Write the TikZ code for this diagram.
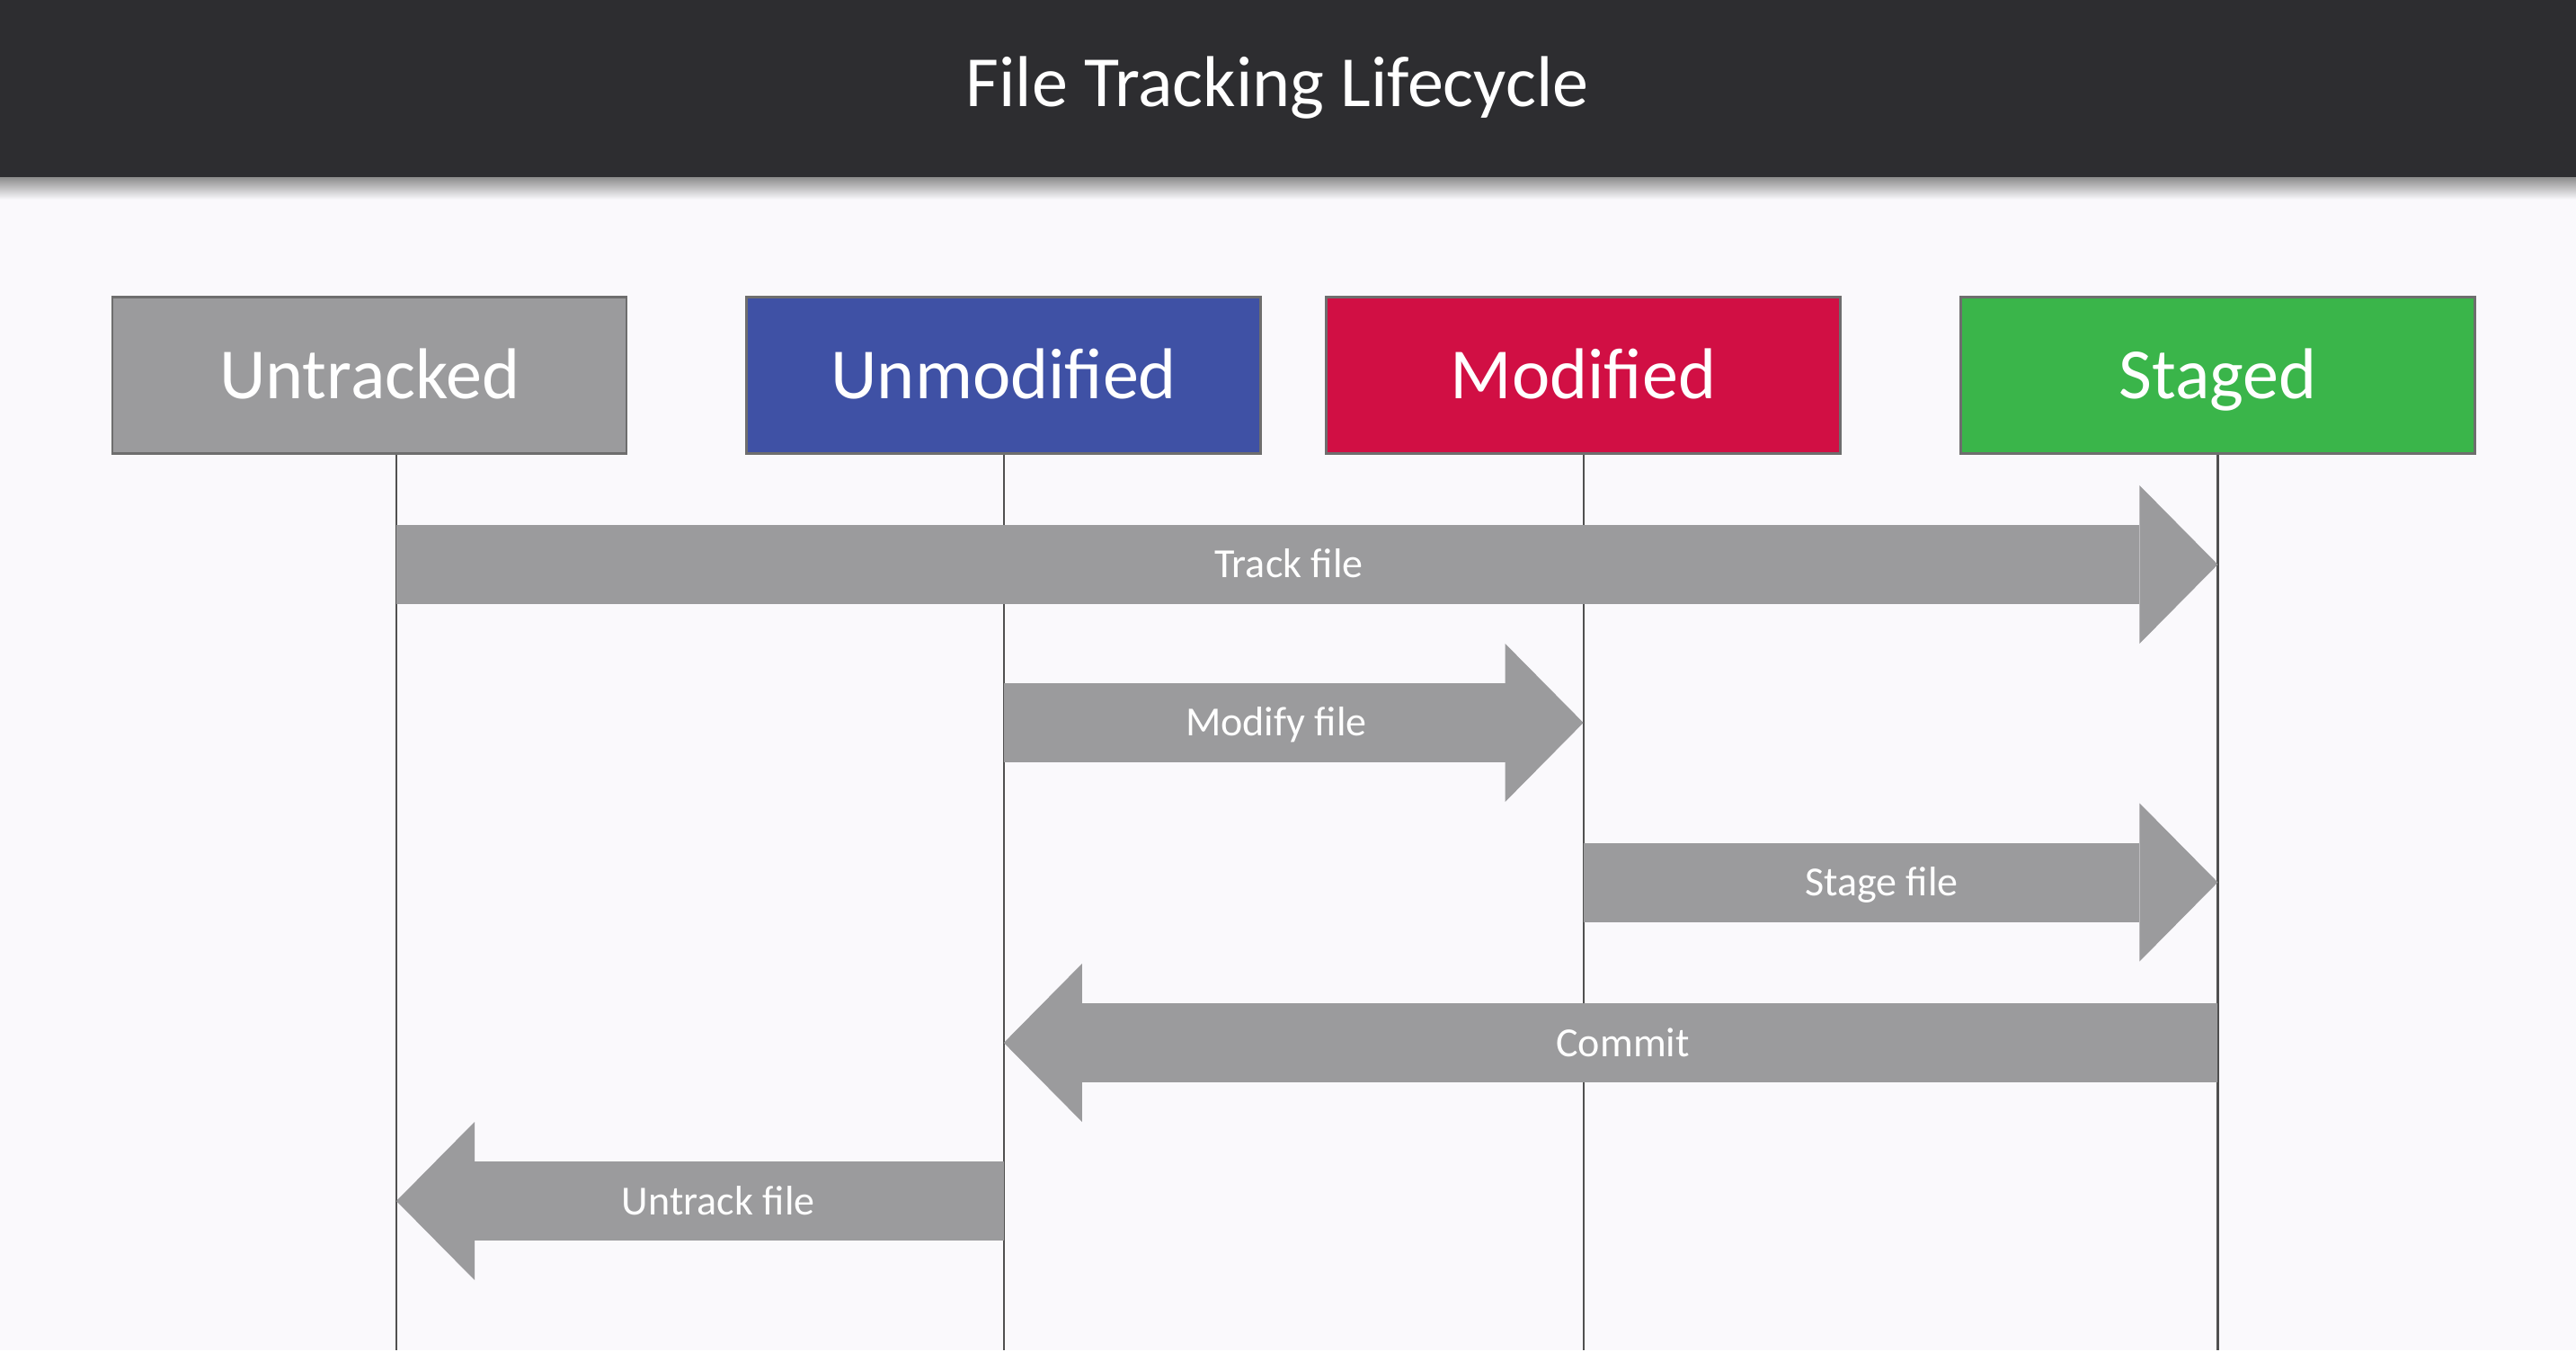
\documentclass[tikz,border=0pt]{standalone}
\usepackage{fontspec}
\setmainfont{Carlito}
\usetikzlibrary{arrows.meta, positioning, calc}

\definecolor{barbg}{HTML}{2D2D30}
\definecolor{pagebg}{HTML}{FAF9FC}
\definecolor{flowgray}{HTML}{9B9B9D}
\definecolor{untrackedgray}{HTML}{9B9B9D}
\definecolor{unmodblue}{HTML}{3F51A5}
\definecolor{modred}{HTML}{D10F44}
\definecolor{stagedgreen}{HTML}{3AB54A}
\definecolor{edgegray}{HTML}{6E6E6E}
\definecolor{lifegray}{HTML}{505050}

\begin{document}
\begin{tikzpicture}[
    node distance=1.31cm,
    state/.style={draw=edgegray, line width=0.8pt, minimum width=5.72cm, minimum height=1.74cm, inner sep=0pt, text=white, text height=0.515cm, text depth=0pt, font=\fontsize{22.8}{26}\selectfont},
    lifeline/.style={draw=lifegray, line width=0.6pt},
    flow/.style={draw=flowgray, line width=0.88cm, -{Triangle[length=0.87cm, width=1.76cm, line width=0pt]}},
    flowlabel/.style={text=white, text height=0.30cm, text depth=0pt, font=\fontsize{13.1}{15}\selectfont},
]
    % page and title bar
    \fill[pagebg] (0,0) rectangle (28.66,-15.02);
    \shade[top color=black!45, bottom color=pagebg] (0,-1.97) rectangle (28.66,-2.22);
    \fill[barbg] (0,0) rectangle (28.66,-1.97);
    \node[text=white, font=\fontsize{22.8}{26}\selectfont] (title) at (14.21,-0.98) {File Tracking Lifecycle};

    % states
    \node[state, fill=untrackedgray] (untracked) at (4.11,-4.175) {Untracked};
    \node[state, fill=unmodblue, right=1.31cm of untracked] (unmodified) {Unmodified};
    \node[state, fill=modred, right=0.70cm of unmodified] (modified) {Modified};
    \node[state, fill=stagedgreen, right=1.31cm of modified] (staged) {Staged};

    % lifelines
    \coordinate (ut) at ($(untracked.south)+(0.30,0)$);
    \coordinate (um) at (unmodified.south);
    \coordinate (md) at (modified.south);
    \coordinate (st) at (staged.south);
    \foreach \s in {ut, um, md, st}
        \draw[lifeline] (\s) -- (\s |- 0,-15.02);

    % transitions
    \draw[flow] (ut |- 0,-6.28) -- node[flowlabel, pos=0.49] (track) {Track file} (st |- 0,-6.28);
    \draw[flow] (um |- 0,-8.04) -- node[flowlabel, pos=0.47] (modify) {Modify file} (md |- 0,-8.04);
    \draw[flow] (md |- 0,-9.815) -- node[flowlabel, pos=0.47] (stage) {Stage file} (st |- 0,-9.815);
    \draw[flow] (st |- 0,-11.60) -- node[flowlabel, pos=0.49] (commit) {Commit} (um |- 0,-11.60);
    \draw[flow] (um |- 0,-13.36) -- node[flowlabel, pos=0.47] (untrack) {Untrack file} (ut |- 0,-13.36);
\end{tikzpicture}
\end{document}
